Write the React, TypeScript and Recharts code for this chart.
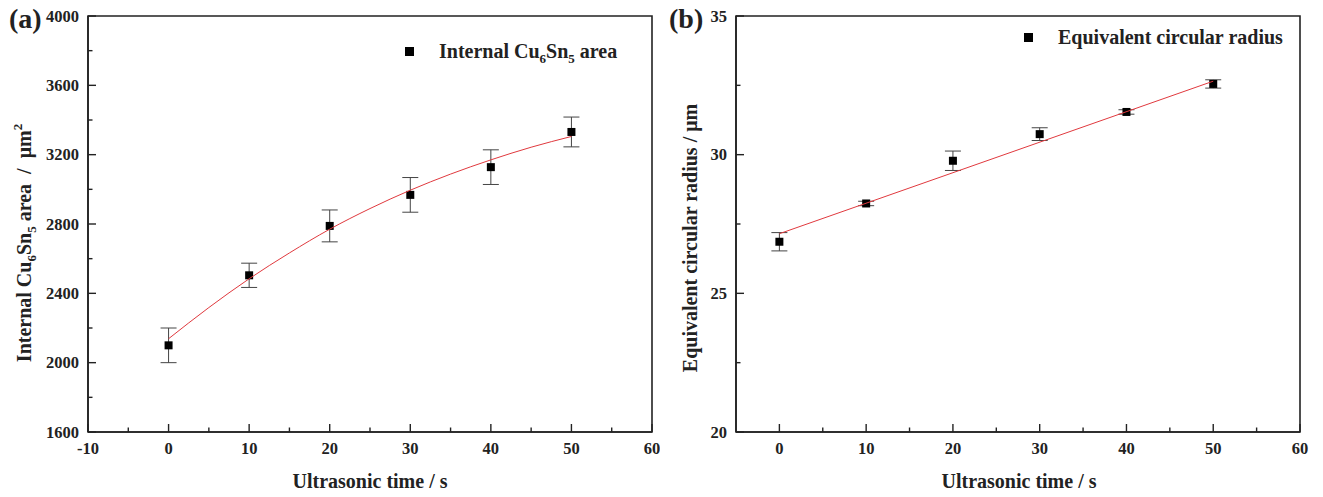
import React from 'react'
import { ScatterChart, Scatter, XAxis, YAxis, ZAxis, ErrorBar, ReferenceArea, Legend } from 'recharts'

const serif = '"Liberation Serif", "Times New Roman", serif'
const ink = '#222'
const fitRed = '#e0393e'

// (a) internal Cu6Sn5 area
const timesA = [0, 10, 20, 30, 40, 50]
const areaA = [2100, 2504, 2789, 2968, 3128, 3331]
const areaErrA = [100, 70, 92, 100, 100, 86]
const fitTimesA = [0, 5, 10, 15, 20, 25, 30, 35, 40, 45, 50]
const fitAreaA = [2138, 2318, 2484, 2633, 2770, 2889, 2995, 3088, 3170, 3243, 3305]
const xTicksA = [-10, -5, 0, 5, 10, 15, 20, 25, 30, 35, 40, 45, 50, 55, 60]
const yTicksA = [1600, 1800, 2000, 2200, 2400, 2600, 2800, 3000, 3200, 3400, 3600, 3800, 4000]

// (b) equivalent circular radius
const timesB = [0, 10, 20, 30, 40, 50]
const radiusB = [26.86, 28.24, 29.78, 30.74, 31.54, 32.55]
const radiusErrB = [0.33, 0.08, 0.35, 0.23, 0.08, 0.15]
const fitTimesB = [0, 50]
const fitRadiusB = [27.15, 32.65]
const xTicksB = [0, 5, 10, 15, 20, 25, 30, 35, 40, 45, 50, 55, 60]
const yTicksB = [20, 22.5, 25, 27.5, 30, 32.5, 35]

const pointsA = timesA.map((x, i) => ({ x, y: areaA[i], err: areaErrA[i] }))
const fitA = fitTimesA.map((x, i) => ({ x, y: fitAreaA[i] }))
const pointsB = timesB.map((x, i) => ({ x, y: radiusB[i], err: radiusErrB[i] }))
const fitB = fitTimesB.map((x, i) => ({ x, y: fitRadiusB[i] }))

const tickText = { fontFamily: serif, fontWeight: 'bold' as const, fontSize: 16.5, fill: ink }
const titleText = { fontFamily: serif, fontWeight: 'bold' as const, fontSize: 20, fill: ink }
const axisLine = { stroke: ink, strokeWidth: 1.6 }

const xTick = (every: number) => (p: any) => {
  const v = p.payload.value
  const major = v % every === 0
  return (
    <g>
      <line x1={p.x} x2={p.x} y1={p.y} y2={p.y - (major ? 8 : 4.5)} stroke={ink} strokeWidth={1.4} />
      {major && <text x={p.x} y={p.y + 22} textAnchor="middle" {...tickText}>{v}</text>}
    </g>
  )
}

const yTick = (every: number) => (p: any) => {
  const v = p.payload.value
  const major = v % every === 0
  return (
    <g>
      <line x1={p.x} x2={p.x + (major ? 8 : 4.5)} y1={p.y} y2={p.y} stroke={ink} strokeWidth={1.4} />
      {major && <text x={p.x - 9} y={p.y + 5.5} textAnchor="end" {...tickText}>{v}</text>}
    </g>
  )
}

const square = <span style={{ display: 'inline-block', width: 9, height: 9, background: '#000' }} />
const sub = (s: string) => <span style={{ fontSize: 13, position: 'relative', top: 5 }}>{s}</span>

function PanelA() {
  return (
    <ScatterChart width={660} height={497} margin={{ top: 16, right: 8, bottom: 25, left: 28 }}>
      <XAxis type="number" dataKey="x" domain={[-10, 60]} ticks={xTicksA} interval={0} height={40}
        axisLine={axisLine} tickLine={false} tickSize={0} tickMargin={0} tick={xTick(10)}
        label={{ content: () => <text x={370} y={488} textAnchor="middle" {...titleText}>Ultrasonic time / s</text> }} />
      <YAxis type="number" dataKey="y" domain={[1600, 4000]} ticks={yTicksA} interval={0} width={60}
        axisLine={axisLine} tickLine={false} tickSize={0} tickMargin={0} tick={yTick(400)}
        label={{ content: () => (
          <text transform="rotate(-90)" x={-243} y={31} textAnchor="middle" {...titleText} style={{ whiteSpace: 'pre' }}>
            Internal Cu<tspan dy={5} fontSize={13}>6</tspan><tspan dy={-5}>Sn</tspan><tspan dy={5} fontSize={13}>5</tspan>
            <tspan dy={-5}> area  /  μm</tspan><tspan dy={-9} fontSize={13}>2</tspan>
          </text>
        ) }} />
      <ZAxis range={[90, 90]} />
      <ReferenceArea x1={-10} x2={60} y1={1600} y2={4000} fill="none" stroke={ink} strokeWidth={1.6} />
      <Scatter data={pointsA} fill="#000" shape="square" isAnimationActive={false}>
        <ErrorBar dataKey="err" direction="y" width={8} stroke="#444" strokeWidth={1} isAnimationActive={false} />
      </Scatter>
      <Scatter data={fitA} shape={() => <g />} line={{ stroke: fitRed, strokeWidth: 1 }} lineJointType="monotoneX" isAnimationActive={false} />
      <Legend layout="horizontal" verticalAlign="middle" align="center"
        wrapperStyle={{ left: 405, top: 39, width: 'auto' }}
        content={() => (
          <div style={{ display: 'flex', alignItems: 'center', height: 24, fontFamily: serif, fontWeight: 'bold', fontSize: 20, color: ink, whiteSpace: 'nowrap' }}>
            {square}
            <span style={{ marginLeft: 25 }}>Internal Cu{sub('6')}Sn{sub('5')} area</span>
          </div>
        )} />
    </ScatterChart>
  )
}

function PanelB() {
  return (
    <ScatterChart width={663} height={497} margin={{ top: 16, right: 23, bottom: 25, left: 16 }}>
      <XAxis type="number" dataKey="x" domain={[-5, 60]} ticks={xTicksB} interval={0} height={40}
        axisLine={axisLine} tickLine={false} tickSize={0} tickMargin={0} tick={xTick(10)}
        label={{ content: () => <text x={359} y={488} textAnchor="middle" {...titleText}>Ultrasonic time / s</text> }} />
      <YAxis type="number" dataKey="y" domain={[20, 35]} ticks={yTicksB} interval={0} width={60}
        axisLine={axisLine} tickLine={false} tickSize={0} tickMargin={0} tick={yTick(5)}
        label={{ content: () => (
          <text transform="rotate(-90)" x={-238} y={37} textAnchor="middle" {...titleText}>
            Equivalent circular radius / μm
          </text>
        ) }} />
      <ZAxis range={[90, 90]} />
      <ReferenceArea x1={-5} x2={60} y1={20} y2={35} fill="none" stroke={ink} strokeWidth={1.6} />
      <Scatter data={pointsB} fill="#000" shape="square" isAnimationActive={false}>
        <ErrorBar dataKey="err" direction="y" width={8} stroke="#444" strokeWidth={1} isAnimationActive={false} />
      </Scatter>
      <Scatter data={fitB} shape={() => <g />} line={{ stroke: fitRed, strokeWidth: 1 }} isAnimationActive={false} />
      <Legend layout="horizontal" verticalAlign="middle" align="center"
        wrapperStyle={{ left: 364, top: 25, width: 'auto' }}
        content={() => (
          <div style={{ display: 'flex', alignItems: 'center', height: 24, fontFamily: serif, fontWeight: 'bold', fontSize: 20, color: ink, whiteSpace: 'nowrap' }}>
            {square}
            <span style={{ marginLeft: 25 }}>Equivalent circular radius</span>
          </div>
        )} />
    </ScatterChart>
  )
}

const panelTag = { position: 'absolute' as const, top: 3, fontFamily: serif, fontWeight: 'bold' as const, fontSize: 28, color: ink }

export default function App() {
  return (
    <div style={{ position: 'absolute', left: 0, top: 0, width: 1323, height: 497, background: '#fff' }}>
      <div style={{ position: 'absolute', left: 0, top: 0 }}><PanelA /></div>
      <div style={{ position: 'absolute', left: 660, top: 0 }}><PanelB /></div>
      <div style={{ ...panelTag, left: 9 }}>(a)</div>
      <div style={{ ...panelTag, left: 669 }}>(b)</div>
    </div>
  )
}
